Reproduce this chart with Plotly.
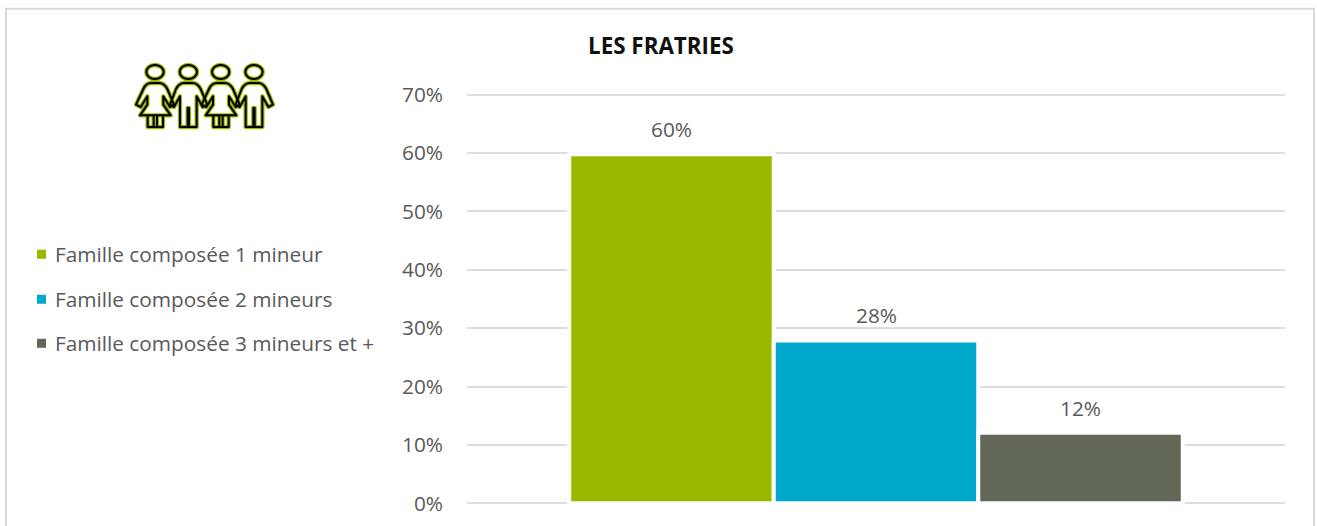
import base64
import plotly.graph_objects as go

title = "LES FRATRIES"
series_names = ["Famille composée 1 mineur", "Famille composée 2 mineurs", "Famille composée 3 mineurs et +"]
values = [59.8, 27.9, 12.1]
value_labels = ["60%", "28%", "12%"]
colors = ["#9BB800", "#00A9CB", "#626857"]
positions = [-0.25, 0.0, 0.25]
tick_vals = [0, 10, 20, 30, 40, 50, 60, 70]
tick_text = ["0%", "10%", "20%", "30%", "40%", "50%", "60%", "70%"]

W, H = 1317, 526
UNIT = 58.35 / 10
PAD = 2
L, R = 467, 1285
T, B = 95 - PAD * UNIT, 503.5 + PAD * UNIT
FONT = "Open Sans"
GREY = "#595959"
SIZE = 20.8

def px(x):
    return (x - L) / (R - L)
def py(y):
    return (B - y) / (B - T)

fig = go.Figure()
for name, v, c, p in zip(series_names, values, colors, positions):
    fig.add_trace(go.Bar(x=[p], y=[v], width=0.25, name=name, marker=dict(color=c, line=dict(color="white", width=4)), showlegend=False, hoverinfo="name+y"))

ann = []
for v, t, p in zip(values, value_labels, positions):
    ann.append(dict(x=p, y=v, xref="x", yref="y", text=t, showarrow=False, yshift=25, yanchor="middle", font=dict(family=FONT, size=SIZE, color=GREY)))
ann.append(dict(x=px(660.5), y=py(46), xref="paper", yref="paper", text="<b>" + title + "</b>", showarrow=False, xanchor="center", yanchor="middle", font=dict(family=FONT, size=22.4, color="#111111")))

shapes = [dict(type="path", xref="paper", yref="paper", layer="below",
               path=f"M {px(6)} {py(600)} L {px(6)} {py(9)} L {px(1314)} {py(9)} L {px(1314)} {py(600)}",
               line=dict(color="#D9D9D9", width=2))]
for name, c, yy in zip(series_names, colors, [254.5, 299.5, 343.5]):
    shapes.append(dict(type="rect", xref="paper", yref="paper", x0=px(37), x1=px(46), y0=py(yy + 4.5), y1=py(yy - 4.5), fillcolor=c, line=dict(width=0)))
    ann.append(dict(x=px(52.5), y=py(yy - 0.5), xref="paper", yref="paper", text=name, showarrow=False, xanchor="left", yanchor="middle", font=dict(family=FONT, size=SIZE, color=GREY)))

def girl(dx):
    return (f'<ellipse cx="{135+dx}" cy="67" rx="26" ry="21"/>'
            f'<path d="M{112+dx} 140 V165 L{90+dx} 197 H{182+dx} L{160+dx} 165 V140 L{180+dx} 172 L{192+dx} 165 L{172+dx} 118 Q{162+dx} 100 {148+dx} 100 H{124+dx} Q{108+dx} 100 {100+dx} 118 L{78+dx} 165 L{92+dx} 172 Z"/>'
            f'<path d="M{113+dx} 197 V232 H{159+dx} V197 M{131+dx} 197 V232 M{141+dx} 197 V232"/>')

def boy(dx):
    return (f'<ellipse cx="{135+dx}" cy="67" rx="26" ry="21"/>'
            f'<path d="M{110+dx} 140 V232 H{133+dx} V175 H{137+dx} V232 H{160+dx} V140 L{178+dx} 172 L{192+dx} 165 L{172+dx} 118 Q{162+dx} 100 {148+dx} 100 H{122+dx} Q{108+dx} 100 {98+dx} 118 L{80+dx} 165 L{92+dx} 172 Z"/>')

shapes_svg = girl(0) + boy(100) + girl(197) + boy(297)
svg = (f'<svg xmlns="http://www.w3.org/2000/svg" width="570" height="270" viewBox="0 0 570 270">'
       f'<g fill="none" stroke="#9BB800" stroke-width="13" stroke-linejoin="round">{shapes_svg}</g>'
       f'<g fill="none" stroke="#000000" stroke-width="6" stroke-linejoin="round">{shapes_svg}</g></svg>')
uri = "data:image/svg+xml;base64," + base64.b64encode(svg.encode()).decode()

fig.update_layout(
    width=W, height=H, margin=dict(l=L, r=W - R, t=T, b=H - B, pad=0, autoexpand=False),
    paper_bgcolor="white", plot_bgcolor="white", annotations=ann, shapes=shapes,
    images=[dict(source=uri, xref="paper", yref="paper", x=px(110), y=py(50), sizex=px(300) - px(110), sizey=py(50) - py(140), xanchor="left", yanchor="top", sizing="stretch", layer="above")],
    xaxis=dict(range=[-0.5, 0.5], visible=False),
    yaxis=dict(range=[-PAD, 70 + PAD], tickmode="array", tickvals=tick_vals, ticktext=tick_text, showgrid=True, gridcolor="#DDDDDD", gridwidth=1.5,
               zeroline=False, showline=False, ticks="", ticklabelstandoff=23, automargin=False,
               tickfont=dict(family=FONT, size=SIZE, color=GREY)),
    showlegend=False,
)
fig.write_html("out.html", config=dict(displayModeBar=False), post_script="document.body.style.margin='0';document.body.style.overflow='hidden';")
